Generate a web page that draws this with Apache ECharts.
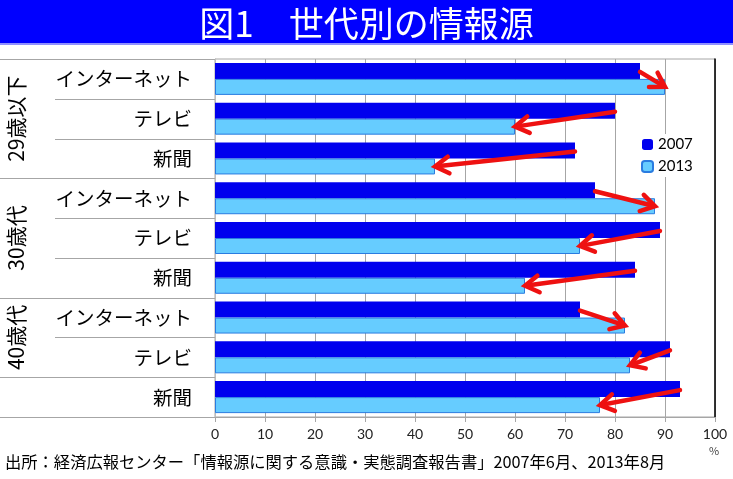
<!DOCTYPE html>
<html><head><meta charset="utf-8">
<script src="https://cdn.jsdelivr.net/npm/echarts@6/dist/echarts.min.js"></script>
<style>html,body{margin:0;padding:0;background:#fff}#c{width:733px;height:479px}</style>
</head><body><div id="c"></div>
<script>
const categories = ['インターネット','テレビ','新聞','インターネット','テレビ','新聞','インターネット','テレビ','新聞'];
const values2007 = [85, 80, 72, 76, 89, 84, 73, 91, 93];
const values2013 = [90, 60, 44, 88, 73, 62, 82, 83, 77];
const seriesNames = ['2007', '2013'];
const groupLabels = ['29歳以下', '30歳代', '40歳代'];
const groupStart = [0, 3, 6];
const groupSpan = [3, 3, 2];
const fullBoundaries = [0, 3, 6, 8, 9];

const JP = '"Noto Sans CJK JP", sans-serif';
const BAR = 16;

const chart = echarts.init(document.getElementById('c'), null, {renderer: 'canvas'});

const arrowData = categories.map((c, i) => [i, values2007[i], values2013[i]]);
const sepData = [];
for (let b = 0; b <= categories.length; b++) sepData.push([b, fullBoundaries.indexOf(b) >= 0 ? 1 : 0]);
const groupData = groupLabels.map((g, i) => [groupStart[i], groupSpan[i], g]);

chart.setOption({
  animation: false,
  grid: {left: 215, right: 18, top: 59, bottom: 62, show: true, borderColor: '#a6a6a6', borderWidth: 1},
  title: {
    text: '図1　世代別の情報源', left: 'center', top: 1,
    textStyle: {color: '#fff', fontSize: 35, fontWeight: 'normal', fontFamily: JP}
  },
  graphic: [
    {type: 'rect', shape: {x: 0, y: 0, width: 733, height: 43}, style: {fill: '#0000ff'}, z: -10},
    {type: 'rect', shape: {x: 0, y: 43, width: 733, height: 2}, style: {fill: '#9090ff'}, z: -10},
    {type: 'text', left: 5, top: 454, style: {text: '出所：経済広報センター「情報源に関する意識・実態調査報告書」2007年6月、2013年8月', fontSize: 16.3, fontFamily: JP, fill: '#000'}},
    {type: 'text', left: 709, top: 445, style: {text: '%', fontSize: 11, fontFamily: JP, fill: '#444'}}
  ],
  legend: {
    data: seriesNames, orient: 'vertical', left: 637, top: 134,
    itemWidth: 11, itemHeight: 11, itemGap: 7,
    backgroundColor: '#fff', padding: [3, 4],
    textStyle: {fontSize: 15, color: '#000', fontFamily: 'Lato, sans-serif'}
  },
  xAxis: [{
    type: 'value', min: 0, max: 100, interval: 10,
    axisLine: {show: true, lineStyle: {color: '#a6a6a6'}},
    axisTick: {show: true, length: 5, lineStyle: {color: '#a6a6a6'}},
    splitLine: {show: true, lineStyle: {color: '#a6a6a6', width: 1}},
    axisLabel: {fontSize: 14, color: '#222', margin: 10, fontFamily: 'Lato, sans-serif'}
  }],
  yAxis: [{
    type: 'category', data: categories, inverse: true,
    axisLine: {show: true, lineStyle: {color: '#bdbdbd'}},
    axisTick: {show: false},
    axisLabel: {fontSize: 19.5, color: '#000', margin: 23, fontFamily: JP}
  }, {
    type: 'category', data: categories, inverse: true, position: 'right',
    axisLine: {show: true, lineStyle: {color: '#000', width: 1.5}},
    axisTick: {show: false}, axisLabel: {show: false}
  }],
  series: [
    {name: seriesNames[0], type: 'bar', data: values2007, barWidth: BAR, barGap: '0%',
      itemStyle: {color: '#0000ee'}, z: 2},
    {name: seriesNames[1], type: 'bar', data: values2013, barWidth: BAR, barGap: '0%',
      itemStyle: {color: '#66ccff', borderColor: '#2a7ce0', borderWidth: 1}, z: 2},
    {
      type: 'custom', data: arrowData, z: 5, silent: true, clip: false,
      renderItem: function (params, api) {
        const idx = api.value(0);
        const p1 = api.coord([api.value(1), idx]);
        const p2 = api.coord([api.value(2), idx]);
        const x1 = p1[0], y1 = p1[1] - BAR / 2 + 1;
        const x2 = p2[0], y2 = p2[1] + BAR / 2;
        const ang = Math.atan2(y2 - y1, x2 - x1);
        const L = 16, A = 0.55;
        const a1 = [x2 - L * Math.cos(ang - A), y2 - L * Math.sin(ang - A)];
        const a2 = [x2 - L * Math.cos(ang + A), y2 - L * Math.sin(ang + A)];
        const st = {stroke: '#ee1111', lineWidth: 4.5, fill: null, lineCap: 'round', lineJoin: 'miter'};
        return {type: 'group', children: [
          {type: 'line', shape: {x1: x1, y1: y1, x2: x2 - 2 * Math.cos(ang), y2: y2 - 2 * Math.sin(ang)}, style: st},
          {type: 'polyline', shape: {points: [a1, [x2, y2], a2]}, style: st}
        ]};
      }
    },
    {
      type: 'custom', data: sepData, z: 1, silent: true, clip: false,
      renderItem: function (params, api) {
        const b = api.value(0);
        const band = api.size([0, 1])[1];
        const y = Math.round(api.coord([0, 0])[1] - band / 2 + b * band) + 0.5;
        const x0 = api.value(1) ? 0 : 55;
        const gx = api.coord([0, 0])[0];
        return {type: 'line', shape: {x1: x0, y1: y, x2: gx, y2: y}, style: {stroke: '#a6a6a6', lineWidth: 1}};
      }
    },
    {
      type: 'custom', data: groupData, z: 3, silent: true, clip: false,
      renderItem: function (params, api) {
        const s = api.value(0), n = api.value(1);
        const band = api.size([0, 1])[1];
        const yTop = api.coord([0, 0])[1] - band / 2 + s * band;
        const yc = yTop + n * band / 2;
        return {type: 'text', x: 16, y: yc, rotation: Math.PI / 2,
          style: {text: groupLabels[params.dataIndex], fontSize: 21, fontFamily: JP, fill: '#000', align: 'center', verticalAlign: 'middle'}};
      }
    }
  ]
});
</script></body></html>
